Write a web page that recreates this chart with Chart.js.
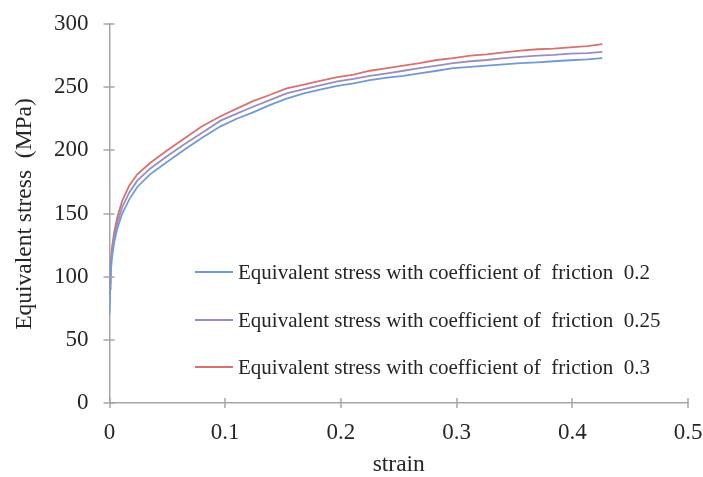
<!DOCTYPE html>
<html>
<head>
<meta charset="utf-8">
<script src="https://cdn.jsdelivr.net/npm/chart.js@4.4.0/dist/chart.umd.min.js"></script>
<style>
html,body{margin:0;padding:0;background:#fff;}
#wrap{width:703px;height:477px;position:relative;}
</style>
</head>
<body>
<div id="wrap"><canvas id="c" width="703" height="477"></canvas></div>
<script>
const strain = [0, 0.0005, 0.001, 0.002, 0.004, 0.007, 0.011, 0.017, 0.024, 0.035, 0.05, 0.064, 0.08, 0.096, 0.11, 0.124, 0.139, 0.153, 0.168, 0.182, 0.197, 0.211, 0.225, 0.24, 0.254, 0.268, 0.283, 0.297, 0.312, 0.326, 0.341, 0.355, 0.37, 0.384, 0.398, 0.413, 0.426];
const stress02 = [70, 90, 102, 114, 127, 139, 150, 161, 171, 181, 191, 200, 210, 219, 225, 230, 236, 241, 245, 248, 251, 253, 255.5, 257.5, 259, 261, 263, 265, 266, 267, 268, 269, 269.7, 270.5, 271.3, 272, 273];
const stress025 = [80, 95, 106, 118, 131, 143.5, 155, 166.5, 176, 185.5, 195.5, 204.5, 214, 223.5, 229, 234.5, 240, 245, 248.5, 251.5, 254.5, 256.5, 259, 261, 263, 265, 267, 269, 270.5, 271.5, 273, 274, 275, 275.5, 276.5, 277, 278];
const stress03 = [89, 100, 110, 122, 135, 148, 160, 172, 181, 190, 200, 209, 219, 227, 233, 239, 244, 249, 252, 255, 258, 260, 263, 265, 267, 269, 271.5, 273, 275, 276, 277.5, 279, 280, 280.5, 281.5, 282.5, 284];
const seriesLabels = [
  "Equivalent stress with coefficient of  friction  0.2",
  "Equivalent stress with coefficient of  friction  0.25",
  "Equivalent stress with coefficient of  friction  0.3"
];
const xTickValues = [0, 0.1, 0.2, 0.3, 0.4, 0.5];
const yTickValues = [0, 50, 100, 150, 200, 250, 300];
const xTitle = "strain";
const yTitle = "Equivalent stress  (MPa)";

const colors = ['#6e9bd5', '#9d8bc3', '#d7726f'];
const FONT = '"Liberation Serif", "Times New Roman", serif';

function pts(ys){ return strain.map((x,i)=>({x:x,y:ys[i]})); }

const crossTicks = {
  id: 'crossTicks',
  afterDraw(chart){
    const ctx = chart.ctx, xs = chart.scales.x, ys = chart.scales.y;
    const ca = chart.chartArea;
    ctx.save();
    ctx.strokeStyle = '#a6a6a6';
    ctx.lineWidth = 1.5;
    xTickValues.forEach(v=>{
      const px = Math.round(xs.getPixelForValue(v));
      ctx.beginPath(); ctx.moveTo(px, ca.bottom-5); ctx.lineTo(px, ca.bottom+5); ctx.stroke();
    });
    yTickValues.forEach(v=>{
      const py = Math.round(ys.getPixelForValue(v));
      ctx.beginPath(); ctx.moveTo(ca.left-6, py); ctx.lineTo(ca.left+5, py); ctx.stroke();
    });
    // titles
    ctx.fillStyle = '#262626';
    ctx.font = '23.5px ' + FONT;
    ctx.textAlign = 'center';
    ctx.textBaseline = 'middle';
    ctx.fillText(xTitle, (ca.left+ca.right)/2, 465);
    ctx.translate(25, 214);
    ctx.rotate(-Math.PI/2);
    ctx.fillText(yTitle, 0, 0);
    ctx.restore();
    // legend
    ctx.save();
    ctx.font = '21px ' + FONT;
    ctx.textAlign = 'left';
    ctx.textBaseline = 'middle';
    const rows = [272, 320, 367];
    chart.data.datasets.forEach((ds,i)=>{
      const y = rows[i];
      ctx.strokeStyle = ds.borderColor; ctx.lineWidth = 2;
      ctx.beginPath(); ctx.moveTo(195, y); ctx.lineTo(233, y); ctx.stroke();
      ctx.fillStyle = '#262626';
      ctx.fillText(ds.label, 238, y+1);
    });
    ctx.restore();
  }
};

new Chart(document.getElementById('c'), {
  type: 'scatter',
  data: {
    datasets: [stress02, stress025, stress03].map((d,i)=>({
      label: seriesLabels[i],
      data: pts(d),
      showLine: true,
      borderColor: colors[i],
      backgroundColor: colors[i],
      borderWidth: 1.8,
      pointRadius: 0,
      tension: 0
    }))
  },
  options: {
    responsive: false,
    animation: false,
    devicePixelRatio: 1,
    layout: { padding: { left: 0, right: 15, top: 24, bottom: 0 } },
    plugins: { legend: { display: false }, tooltip: { enabled: false } },
    scales: {
      x: {
        type: 'linear', min: 0, max: 0.5,
        afterBuildTicks(s){ s.ticks = xTickValues.map(v=>({value:v})); },
        afterFit(s){ s.height = 74; s.paddingLeft = 0; s.paddingRight = 0; },
        grid: { display: false, drawTicks: false },
        border: { display: true, color: '#a6a6a6', width: 1.5 },
        ticks: { color: '#262626', font: { family: FONT, size: 23 }, padding: 16, maxRotation: 0,
                 callback: v => String(v) }
      },
      y: {
        type: 'linear', min: 0, max: 300,
        afterBuildTicks(s){ s.ticks = yTickValues.map(v=>({value:v})); },
        afterFit(s){ s.width = 109.5; s.paddingTop = 0; s.paddingBottom = 0; },
        grid: { display: false, drawTicks: false },
        border: { display: true, color: '#a6a6a6', width: 1.5 },
        ticks: { color: '#262626', font: { family: FONT, size: 23 }, padding: 21 }
      }
    }
  },
  plugins: [crossTicks]
});
</script>
</body>
</html>
